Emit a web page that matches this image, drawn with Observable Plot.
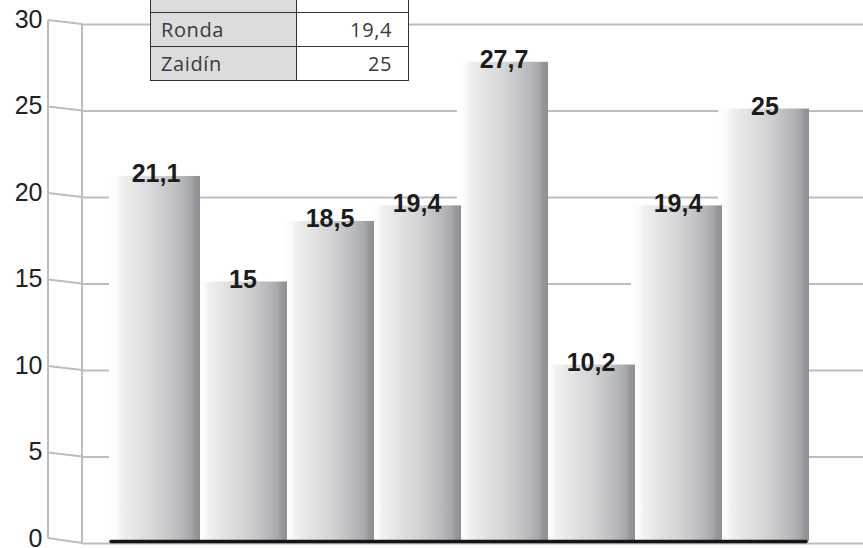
<!DOCTYPE html>
<html>
<head>
<meta charset="utf-8">
<script src="https://cdn.jsdelivr.net/npm/d3@7"></script>
<script src="https://cdn.jsdelivr.net/npm/@observablehq/plot@0.6"></script>
<style>
  html, body { margin: 0; padding: 0; background: #fff; }
  #wrap { position: relative; width: 863px; height: 548px; overflow: hidden; }
  #chart svg { display: block; }
  #tbl { position: absolute; left: 150px; border-collapse: collapse; font-family: "Open Sans", Lato, sans-serif; font-size: 20px; letter-spacing: 0.6px; color: #3a3a3a; }
  #tbl td { border: 1.5px solid #333; height: 34px; padding: 0 10px; box-sizing: border-box; line-height: 1; }
  #tbl td.n { background: #dcdcdc; width: 146px; text-align: left; }
  #tbl td.v { background: #fff; width: 112px; text-align: right; padding-right: 16px; }
</style>
</head>
<body>
<div id="wrap">
  <div id="chart"></div>
</div>
<script>
// Categories (only the last two names are legible in the picture)
const categories = ["b1", "b2", "b3", "b4", "b5", "b6", "Ronda", "Zaidín"];
const values = [21.1, 15, 18.5, 19.4, 27.7, 10.2, 19.4, 25];
const yTicks = [0, 5, 10, 15, 20, 25, 30];
// Visible rows of the (cropped) table in the picture
const tableNames = ["", "Ronda", "Zaidín"];
const tableValues = ["", "19,4", "25"];

const data = categories.map((c, i) => ({cat: c, value: values[i]}));
const fmt = d => String(d.value).replace(".", ",");

const defsMark = () => {
  const defs = d3.create("svg:defs");
  const g = defs.append("linearGradient").attr("id", "barGrad").attr("x1", 0).attr("x2", 1).attr("y1", 0).attr("y2", 0);
  [[0, "#ffffff"], [0.1, "#fafafa"], [0.13, "#f1f1f2"], [0.3, "#e4e4e6"], [0.5, "#d6d6d8"],
   [0.65, "#c8c8cb"], [0.8, "#b6b7ba"], [0.9, "#a7a8ac"], [0.94, "#97989c"], [1, "#8e8f93"]]
    .forEach(([o, c]) => g.append("stop").attr("offset", o).attr("stop-color", c));
  return defs.node();
};

const axisFrame = (index, scales) => {
  const y = scales.y;
  const g = d3.create("svg:g").attr("stroke", "#bcbdc1").attr("stroke-width", 2).attr("fill", "none");
  const xf = 48, xb = 82;
  g.append("line").attr("x1", xf).attr("x2", xf).attr("y1", y(30) - 2).attr("y2", y(0) - 3);
  g.append("line").attr("x1", xb).attr("x2", xb).attr("y1", y(30) + 2).attr("y2", y(0) + 2);
  yTicks.forEach(t => {
    g.append("line").attr("x1", xf).attr("x2", xb).attr("y1", y(t) - 2 - (t === 0 ? 1 : 0)).attr("y2", y(t) + 2);
  });
  return g.node();
};

const plot = Plot.plot({
  width: 863,
  height: 548,
  marginLeft: 111,
  marginRight: 47,
  marginTop: 22,
  marginBottom: 7,
  style: {fontFamily: "'Liberation Sans', Arial, sans-serif", background: "#fff"},
  x: {domain: categories, padding: 0.07, axis: null},
  y: {domain: [0, 30], axis: null},
  marks: [
    defsMark,
    Plot.ruleY(yTicks, {dy: 2, insetLeft: -29, insetRight: -47, stroke: "#bcbdc1", strokeWidth: 2}),
    axisFrame,
    Plot.axisY(yTicks, {label: null, tickSize: 0, tickPadding: 69, fontSize: 25, dy: -3, fill: "#222", tickFormat: d => String(d)}),
    Plot.barY(data.slice().reverse(), {x: "cat", y: "value", fill: "url(#barGrad)", insetLeft: -10}),
    Plot.tickY(data, {x: "cat", y: () => 0, stroke: "#151515", strokeWidth: 3.5, strokeLinecap: "round", insetLeft: -8, insetRight: 3}),
    Plot.text(data, {x: "cat", y: "value", text: fmt, lineAnchor: "bottom", dy: 6, dx: -4, fontSize: 25, fontWeight: "bold", fill: "#1c1c1c"})
  ]
});
document.getElementById("chart").appendChild(plot);

// cropped table at the top
const tbl = d3.select("#wrap").append("table").attr("id", "tbl").style("top", (80 - 34 * tableNames.length) + "px");
tableNames.forEach((n, i) => {
  const tr = tbl.append("tr");
  tr.append("td").attr("class", "n").text(n);
  tr.append("td").attr("class", "v").text(tableValues[i]);
});
</script>
</body>
</html>
